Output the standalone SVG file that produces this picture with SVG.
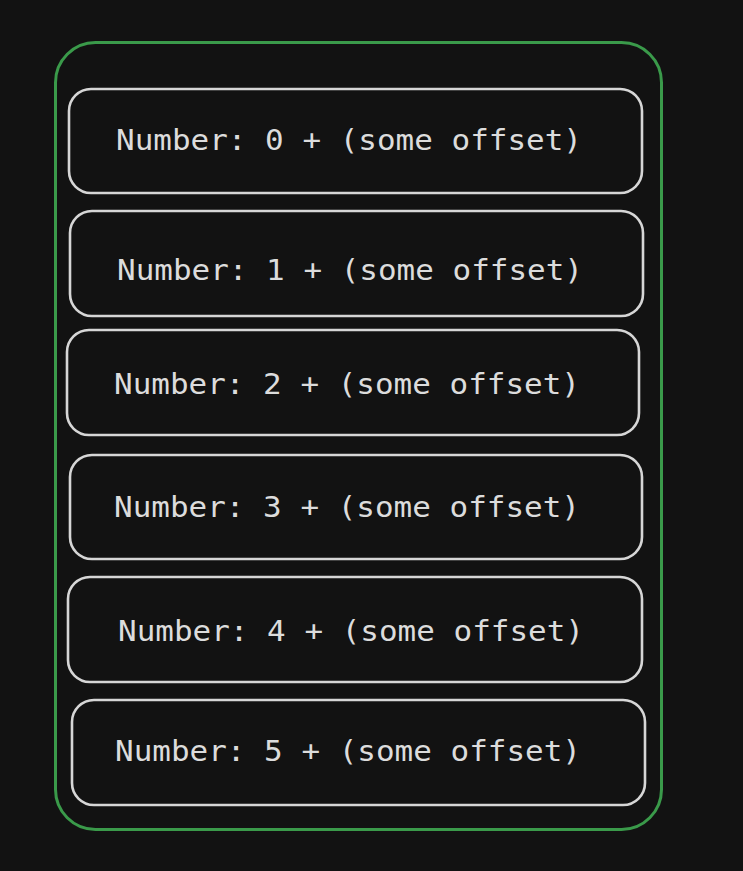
<svg xmlns="http://www.w3.org/2000/svg" width="743" height="871" viewBox="0 0 743 871">
<style>
.bg{fill:#121212}
.outer{fill:none;stroke:#3a9a4a;stroke-width:3}
.box{fill:#121212;stroke:#d6d6d6;stroke-width:2.6}
.t{font-family:"DejaVu Sans Mono","Liberation Mono",monospace;font-size:29px;fill:#dcdcdc;text-anchor:middle;dominant-baseline:central}
</style>
<rect class="bg" x="0" y="0" width="743" height="871"/>
<g id="container"><rect class="outer" x="55.500" y="42.500" width="606" height="787" rx="40"/></g>
<g id="n0"><rect class="box" x="69" y="89" width="573" height="104" rx="22"/><text class="t" x="349" y="140" textLength="466" lengthAdjust="spacingAndGlyphs">Number: 0 + (some offset)</text></g>
<g id="n1"><rect class="box" x="70" y="211" width="573" height="105" rx="22"/><text class="t" x="350" y="270" textLength="466" lengthAdjust="spacingAndGlyphs">Number: 1 + (some offset)</text></g>
<g id="n2"><rect class="box" x="67" y="330" width="572" height="105" rx="22"/><text class="t" x="347" y="384" textLength="466" lengthAdjust="spacingAndGlyphs">Number: 2 + (some offset)</text></g>
<g id="n3"><rect class="box" x="70" y="455" width="572" height="104" rx="22"/><text class="t" x="347" y="507" textLength="466" lengthAdjust="spacingAndGlyphs">Number: 3 + (some offset)</text></g>
<g id="n4"><rect class="box" x="68" y="577" width="574" height="105" rx="22"/><text class="t" x="351" y="631" textLength="466" lengthAdjust="spacingAndGlyphs">Number: 4 + (some offset)</text></g>
<g id="n5"><rect class="box" x="72" y="700" width="573" height="105" rx="22"/><text class="t" x="348" y="751" textLength="466" lengthAdjust="spacingAndGlyphs">Number: 5 + (some offset)</text></g>
<g id="connectors"/>
</svg>
